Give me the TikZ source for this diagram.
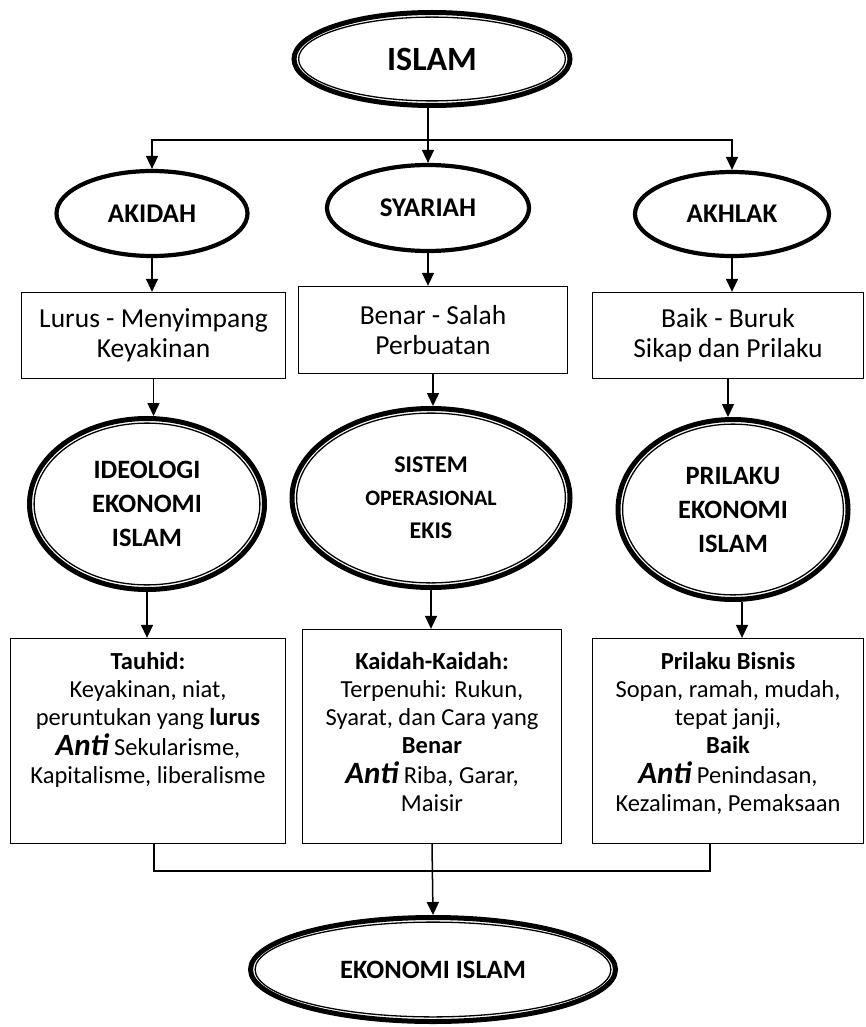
\documentclass[tikz,border=0pt]{standalone}
\usepackage{fontspec}
\setmainfont{Carlito}
\usetikzlibrary{arrows.meta,shapes.geometric}

\tikzset{
  thickoval/.style={ellipse, draw, line width=4.2pt, fill=white, inner sep=0pt,
    align=center, font=\fontsize{27}{32}\selectfont\bfseries},
  ringoval/.style={ellipse, draw, line width=5pt, fill=white, inner sep=0pt,
    align=center, font=\fontsize{26.5}{34}\selectfont\bfseries},
  ringinner/.style={line width=1.3pt},
  frame/.style={draw, line width=1.3pt, inner sep=0pt},
  toptext/.style={align=center, font=\fontsize{27.5}{30}\selectfont},
  bodytext/.style={align=center, inner sep=0pt, font=\fontsize{24.5}{28}\selectfont},
  conn/.style={line width=1.5pt},
  arr/.style={conn, -{Triangle[width=12pt,length=13pt]}},
}

% bold italic lead word in the lower boxes
\newcommand\antiword{{\fontsize{31}{28}\selectfont\bfseries\itshape Anti}}

% ellipse with a thick outer line and a thin inner line
% #1 extra options, #2 name, #3 x, #4 y, #5 width, #6 height, #7 text
\newcommand\ringnode[7][]{%
  \node[ringoval, minimum width=#5pt, minimum height=#6pt, #1] (#2) at (#3,#4) {#7};
  \draw[ringinner] (#2.center) ellipse [x radius=#5pt/2-4.6pt, y radius=#6pt/2-4.6pt];
}

\begin{document}
\begin{tikzpicture}[x=1pt, y=-1pt]
\useasboundingbox (0,0) rectangle (866,1027);

% top
\ringnode[font=\fontsize{34}{38}\selectfont\bfseries]{islam}{432}{59}{276}{93}{ISLAM}

% first level
\node[thickoval, minimum width=191pt, minimum height=85pt] (akidah)  at (152,213.5) {AKIDAH};
\node[thickoval, minimum width=202pt, minimum height=86pt] (syariah) at (428,208)   {SYARIAH};
\node[thickoval, minimum width=194pt, minimum height=84pt] (akhlak)  at (732,214)   {AKHLAK};

% descriptions
\node[frame, toptext, minimum width=264pt, minimum height=86pt] (box1) at (153.5,335.5)
  {Lurus - Menyimpang\\Keyakinan};
\node[frame, toptext, minimum width=269pt, minimum height=87pt] (box2) at (433,330)
  {Benar - Salah\\Perbuatan};
\node[frame, toptext, minimum width=271pt, minimum height=86pt] (box3) at (728,335.5)
  {Baik - Buruk\\Sikap dan Prilaku};

% second level
\ringnode{ideologi}{147}{504}{235}{171}{IDEOLOGI\\EKONOMI\\ISLAM}
\ringnode[font=\fontsize{24}{33}\selectfont\bfseries]{sistem}{431}{498}{278}{179}%
  {SISTEM\\{\fontsize{22}{33}\selectfont OPERASIONAL}\\EKIS}
\ringnode{prilaku}{733}{509.5}{230}{180}{PRILAKU\\EKONOMI\\ISLAM}

% detail boxes
\node[frame, minimum width=275pt, minimum height=205pt] (box1b) at (148,741) {};
\node[frame, minimum width=259pt, minimum height=214pt] (box2b) at (432,736.5) {};
\node[frame, minimum width=271pt, minimum height=205pt] (box3b) at (728,741) {};

\node[bodytext, anchor=north] (text1b) at (148,652)
  {\textbf{Tauhid:}\\Keyakinan, niat,\\peruntukan yang \textbf{lurus}\\[2pt]%
   \antiword{} Sekularisme,\\Kapitalisme, liberalisme};
\node[bodytext, anchor=north] (text2b) at (432,652)
  {\textbf{Kaidah-Kaidah:}\\Terpenuhi: Rukun,\\Syarat, dan Cara yang\\\textbf{Benar}\\[2pt]%
   \antiword{} Riba, Garar,\\Maisir};
\node[bodytext, anchor=north] (text3b) at (728,652)
  {\textbf{Prilaku Bisnis}\\Sopan, ramah, mudah,\\tepat janji,\\\textbf{Baik}\\[2pt]%
   \antiword{} Penindasan,\\Kezaliman, Pemaksaan};

% result
\ringnode{ekonomi}{433}{969.5}{365}{104}{EKONOMI ISLAM}

% branching from the top
\coordinate (split) at (428,140);
\draw[conn] (split |- islam.south) -- (split);
\draw[arr] (split) -- (syariah.north);
\draw[arr] (split) -| (akidah.north);
\draw[arr] (split) -| (akhlak.north);

% columns
\draw[arr] (akidah.south)  -- (akidah.south  |- box1.north);
\draw[arr] (syariah.south) -- (syariah.south |- box2.north);
\draw[arr] (akhlak.south)  -- (akhlak.south  |- box3.north);
\draw[arr] (box1.south) -- (box1.south |- ideologi.north);
\draw[arr] (box2.south) -- (box2.south |- sistem.north);
\draw[arr] (box3.south) -- (box3.south |- prilaku.north);
\draw[arr] (ideologi.south) -- (ideologi.south |- box1b.north);
\draw[arr] (sistem.south)   -- (sistem.south   |- box2b.north);
\draw[arr] ([xshift=9pt]prilaku.south) -- ([xshift=9pt]prilaku.south |- box3b.north);

% joining the three columns
\coordinate (joinl) at (154,871);
\coordinate (joinr) at (710,871);
\draw[line width=1.3pt] (joinl |- box1b.south) -- (joinl) -- (joinr) -- (joinr |- box3b.south);
\draw[arr] (box2b.south) -- (ekonomi.north);
\end{tikzpicture}
\end{document}
